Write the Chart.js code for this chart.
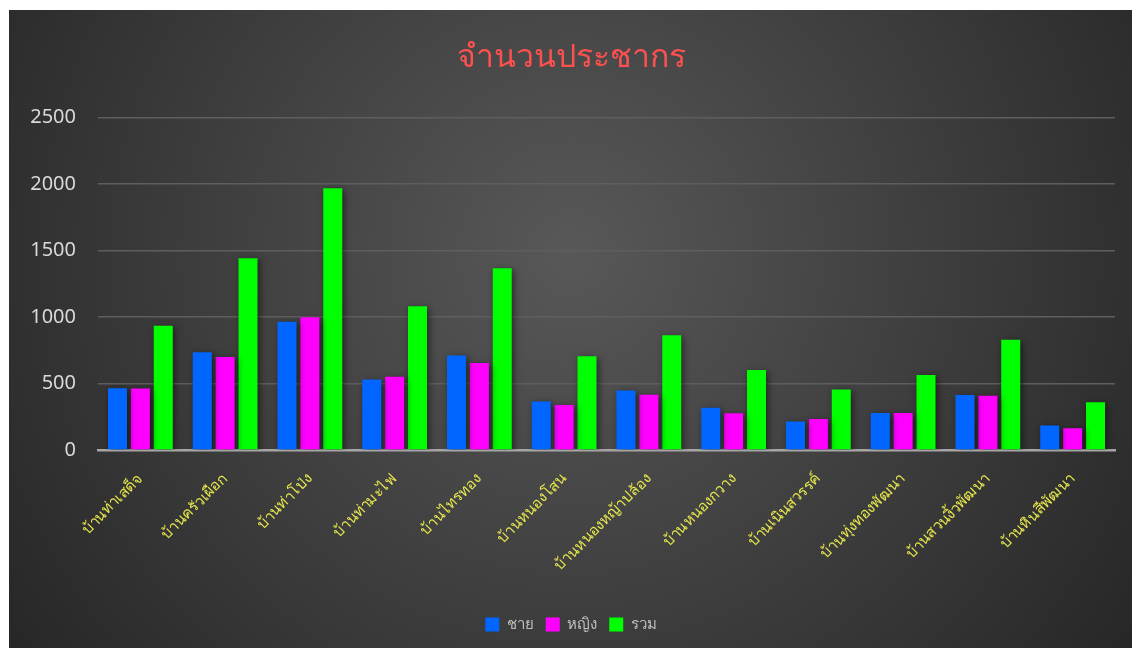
<!DOCTYPE html>
<html>
<head>
<meta charset="utf-8">
<script src="https://cdn.jsdelivr.net/npm/chart.js@4.4.1/dist/chart.umd.min.js"></script>
<style>
  html, body { margin: 0; padding: 0; background: #ffffff; }
  #wrap { position: absolute; left: 9px; top: 10px; width: 1123px; height: 638px; }
</style>
</head>
<body>
<div id="wrap"><canvas id="c" width="1123" height="638"></canvas></div>
<script>
const categories = ["บ้านท่าเสด็จ","บ้านครัวเผือก","บ้านท่าโป่ง","บ้านท่ามะไฟ","บ้านไทรทอง","บ้านหนองโสน","บ้านหนองหญ้าปล้อง","บ้านหนองกวาง","บ้านเนินสวรรค์","บ้านทุ่งทองพัฒนา","บ้านสวนงิ้วพัฒนา","บ้านหินสีพัฒนา"];
const male   = [464, 735, 964, 530, 711, 364, 447, 318, 215, 278, 414, 185];
const female = [462, 699, 997, 550, 653, 339, 415, 276, 233, 278, 407, 164];
const total  = [934, 1442, 1967, 1081, 1367, 704, 862, 601, 455, 564, 829, 359];
const seriesNames = ["ชาย", "หญิง", "รวม"];
const yTicks = [0, 500, 1000, 1500, 2000, 2500];

const bgPlugin = {
  id: 'bg',
  beforeDraw(chart) {
    const ctx = chart.ctx, w = chart.width, h = chart.height;
    ctx.save();
    const g = ctx.createRadialGradient(w*0.5, h*0.38, 0, w*0.5, h*0.38, w*0.62);
    g.addColorStop(0, '#585858');
    g.addColorStop(1, '#262626');
    ctx.fillStyle = g;
    ctx.fillRect(0, 0, w, h);
    ctx.restore();
  },
  beforeDatasetsDraw(chart) {
    const ctx = chart.ctx;
    ctx.save();
    ctx.shadowColor = 'rgba(0,0,0,0.55)';
    ctx.shadowBlur = 7;
    ctx.shadowOffsetX = 2;
    ctx.shadowOffsetY = 2;
  },
  afterDatasetsDraw(chart) {
    chart.ctx.restore();
  }
};

const FONT = "'Noto Sans', 'Open Sans', 'DejaVu Sans', sans-serif";

new Chart(document.getElementById('c'), {
  type: 'bar',
  data: {
    labels: categories,
    datasets: [
      { label: seriesNames[0], data: male,   backgroundColor: '#0066ff' },
      { label: seriesNames[1], data: female, backgroundColor: '#ff00ff' },
      { label: seriesNames[2], data: total,  backgroundColor: '#00ff00' }
    ]
  },
  plugins: [bgPlugin],
  options: {
    responsive: false,
    animation: false,
    devicePixelRatio: 1,
    layout: { padding: { left: 18, right: 17, top: 0, bottom: 6 } },
    datasets: { bar: { categoryPercentage: 0.81, barPercentage: 0.83, borderWidth: 0 } },
    plugins: {
      title: {
        display: true,
        text: 'จำนวนประชากร',
        color: '#ff5050',
        font: { family: FONT, size: 32, weight: 'normal' },
        padding: { top: 29, bottom: 40 }
      },
      legend: {
        position: 'bottom',
        labels: {
          color: '#bfbfbf',
          boxWidth: 14, boxHeight: 14,
          padding: 12,
          font: { family: FONT, size: 15 }
        }
      },
      tooltip: { enabled: false }
    },
    scales: {
      x: {
        grid: { display: false, drawTicks: false },
        border: { display: true, color: '#a6a6a6', width: 2.5 },
        ticks: {
          color: '#e6e64d',
          maxRotation: 45, minRotation: 45,
          autoSkip: false,
          padding: 20,
          font: { family: FONT, size: 15 }
        },
        afterFit(scale) { scale.height = 155; scale.paddingLeft = 0; scale.paddingRight = 0; }
      },
      y: {
        min: 0, max: 2500,
        afterBuildTicks(scale) { scale.ticks = yTicks.map(v => ({ value: v })); },
        grid: { color: '#5e5e5e', lineWidth: 1.5, drawTicks: false },
        border: { display: false },
        ticks: {
          color: '#d9d9d9',
          padding: 22,
          font: { family: FONT, size: 20 },
          callback: (v) => String(v)
        },
        afterFit(scale) { scale.width = 71; }
      }
    }
  }
});
</script>
</body>
</html>
